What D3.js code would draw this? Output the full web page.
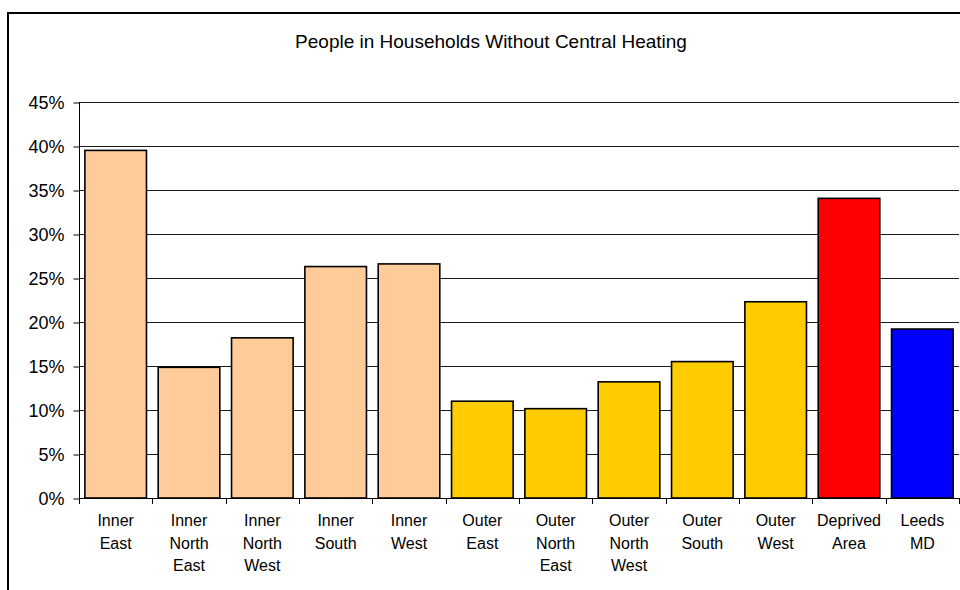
<!DOCTYPE html>
<html>
<head>
<meta charset="utf-8">
<script src="https://cdn.jsdelivr.net/npm/d3@7"></script>
<style>
  html, body { margin: 0; padding: 0; background: #fff; }
  svg { display: block; }
  text { font-family: "Liberation Sans", Arial, sans-serif; fill: #000; }
</style>
</head>
<body>
<svg id="chart" width="960" height="590"></svg>
<script>
const title = "People in Households Without Central Heating";
const categories = [
  ["Inner", "East"],
  ["Inner", "North", "East"],
  ["Inner", "North", "West"],
  ["Inner", "South"],
  ["Inner", "West"],
  ["Outer", "East"],
  ["Outer", "North", "East"],
  ["Outer", "North", "West"],
  ["Outer", "South"],
  ["Outer", "West"],
  ["Deprived", "Area"],
  ["Leeds", "MD"]
];
const values = [39.5, 14.85, 18.2, 26.3, 26.6, 11.0, 10.15, 13.2, 15.5, 22.3, 34.05, 19.2];
const groups = ["inner", "inner", "inner", "inner", "inner", "outer", "outer", "outer", "outer", "outer", "deprived", "leeds"];
const groupColors = { inner: "#FFCC99", outer: "#FFCC00", deprived: "#FF0000", leeds: "#0000FF" };
const yTicks = [0, 5, 10, 15, 20, 25, 30, 35, 40, 45];

const svg = d3.select("#chart");
const plot = { left: 79, right: 959, top: 102, bottom: 498 };

// outer chart-area border (extends past the window)
svg.append("rect")
  .attr("x", 8).attr("y", 13)
  .attr("width", 1000).attr("height", 700)
  .attr("fill", "#fff").attr("stroke", "#000").attr("stroke-width", 2);

svg.append("text")
  .attr("x", 491).attr("y", 48)
  .attr("text-anchor", "middle")
  .style("font-size", "19px")
  .text(title);

const x = d3.scaleBand()
  .domain(d3.range(categories.length))
  .range([plot.left, plot.right])
  .paddingInner(0.16).paddingOuter(0.08);

const xb = d3.scaleBand()
  .domain(d3.range(categories.length))
  .range([plot.left, plot.right]);

const y = d3.scaleLinear().domain([0, 45]).range([plot.bottom, plot.top]);

// gridlines
svg.append("g")
  .selectAll("line")
  .data(yTicks.filter(t => t > 0))
  .join("line")
  .attr("x1", plot.left).attr("x2", plot.right)
  .attr("y1", d => Math.round(y(d)) + 0.5).attr("y2", d => Math.round(y(d)) + 0.5)
  .attr("stroke", "#1a1a1a").attr("stroke-width", 1);

// y axis
const yAxis = d3.axisLeft(y)
  .tickValues(yTicks)
  .tickFormat(d => d + "%")
  .tickSize(6)
  .tickPadding(9);
const gy = svg.append("g")
  .attr("transform", `translate(${plot.left + 0.5},0.5)`)
  .call(yAxis);
gy.select(".domain").attr("stroke", "#000").attr("d", `M0,${y(45)}V${y(0)}`);
gy.selectAll(".tick line").attr("stroke", "#000");
gy.selectAll(".tick text")
  .style("font-size", "18px")
  .style("font-family", "'Liberation Sans', Arial, sans-serif")
  .attr("fill", "#000");

// bars
svg.append("g")
  .selectAll("rect")
  .data(values)
  .join("rect")
  .attr("x", (d, i) => x(i))
  .attr("y", d => y(d))
  .attr("width", x.bandwidth())
  .attr("height", d => y(0) - y(d))
  .attr("fill", (d, i) => groupColors[groups[i]])
  .attr("stroke", "#000")
  .attr("stroke-width", 1.6);

// x axis line and ticks between categories
const gx = svg.append("g");
gx.append("line")
  .attr("x1", plot.left).attr("x2", plot.right)
  .attr("y1", plot.bottom + 0.5).attr("y2", plot.bottom + 0.5)
  .attr("stroke", "#000");
gx.selectAll("line.tk")
  .data(d3.range(categories.length + 1))
  .join("line")
  .attr("class", "tk")
  .attr("x1", i => Math.round(plot.left + i * xb.step()) + 0.5)
  .attr("x2", i => Math.round(plot.left + i * xb.step()) + 0.5)
  .attr("y1", plot.bottom).attr("y2", plot.bottom + 6)
  .attr("stroke", "#000");

// category labels
const lbl = svg.append("g")
  .selectAll("text")
  .data(categories)
  .join("text")
  .attr("text-anchor", "middle")
  .attr("x", (d, i) => xb(i) + xb.bandwidth() / 2)
  .attr("y", 526)
  .style("font-size", "16px");
lbl.selectAll("tspan")
  .data(d => d)
  .join("tspan")
  .attr("x", function () { return d3.select(this.parentNode).attr("x"); })
  .attr("dy", (d, i) => i === 0 ? 0 : 22.7)
  .text(d => d);
</script>
</body>
</html>
